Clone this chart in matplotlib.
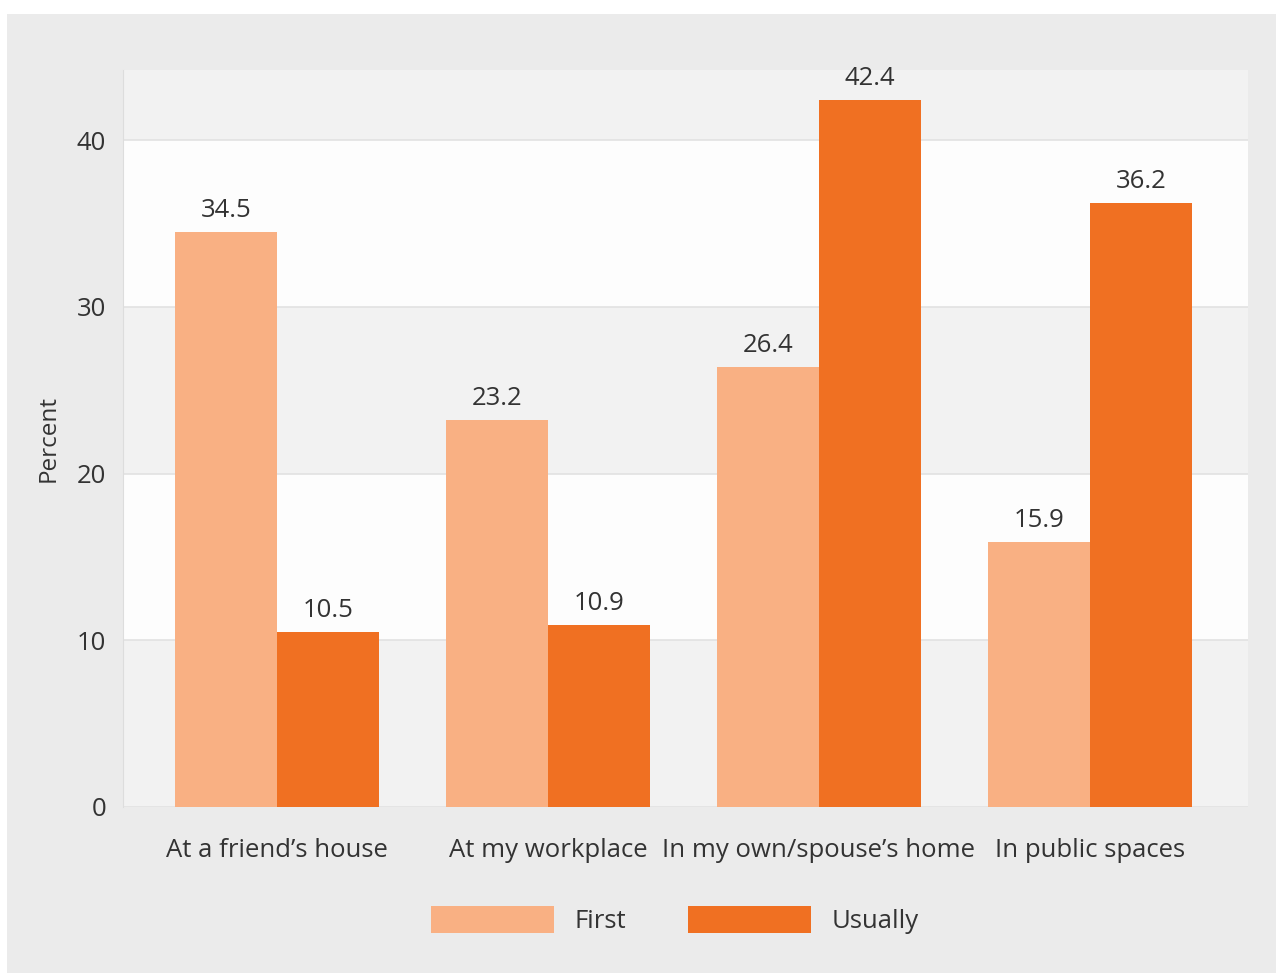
import matplotlib.pyplot as plt
import numpy as np
from matplotlib.patches import Rectangle, Patch

plt.rcParams["font.family"] = ["Open Sans", "DejaVu Sans"]

categories = ["At a friend\u2019s house", "At my workplace",
              "In my own/spouse\u2019s home", "In public spaces"]
first = [34.5, 23.2, 26.4, 15.9]
usually = [10.5, 10.9, 42.4, 36.2]
series_names = ["First", "Usually"]
yticks = [0, 10, 20, 30, 40]

c_first = "#f9b083"
c_usually = "#f07022"
bg = "#ebebeb"
band = "#f2f2f2"
txt = "#333333"
fs = 18.5

fig = plt.figure(figsize=(12.76, 9.73), dpi=100)
fig.patch.set_facecolor("white")
fig.add_artist(Rectangle((7 / 1276, 0), 1, 1 - 14 / 973, transform=fig.transFigure,
                         facecolor=bg, edgecolor="none", zorder=0))

ax = fig.add_axes([123 / 1276, 1 - 807 / 973, (1248 - 123) / 1276, (807 - 70) / 973])
ax.set_facecolor("#fdfdfd")
ymax = 44.2
ax.set_ylim(0, ymax)
ax.set_xlim(-0.568, 3.583)

# alternating bands
edges = yticks + [ymax]
for i in range(len(edges) - 1):
    if i % 2 == 0:
        ax.axhspan(edges[i], edges[i + 1], color=band, zorder=0, lw=0)
for t in yticks:
    ax.axhline(t, color="#e2e2e2", lw=1.2, zorder=0.5)

x = np.arange(len(categories))
w = 0.376
b1 = ax.bar(x - w / 2, first, w, color=c_first, zorder=2, label=series_names[0])
b2 = ax.bar(x + w / 2, usually, w, color=c_usually, zorder=2, label=series_names[1])

for bars, vals in ((b1, first), (b2, usually)):
    for r, v in zip(bars, vals):
        ax.text(r.get_x() + r.get_width() / 2, v + 0.55, f"{v:.1f}",
                ha="center", va="bottom", fontsize=fs, color=txt)

ax.set_xticks(x)
ax.set_xticklabels(categories, fontsize=fs, color=txt)
ax.set_yticks(yticks)
ax.set_yticklabels([str(t) for t in yticks], fontsize=fs, color=txt)
ax.tick_params(axis="x", length=0, pad=22)
ax.tick_params(axis="y", length=0, pad=12)
ax.set_ylabel("Percent", fontsize=17.5, color=txt, labelpad=12)
for s in ax.spines.values():
    s.set_visible(False)
ax.spines["left"].set_visible(True)
ax.spines["left"].set_color("#dddddd")

handles = [Patch(facecolor=c_first, label=series_names[0]),
           Patch(facecolor=c_usually, label=series_names[1])]
fig.legend(handles=handles, loc="center", bbox_to_anchor=(675 / 1276, 1 - 920 / 973),
           ncol=2, frameon=False, fontsize=fs, handlelength=4.8, handleheight=1.28,
           handletextpad=0.8, columnspacing=2.4, labelcolor=txt)

fig.savefig("out.png", dpi=100, facecolor=fig.get_facecolor())
